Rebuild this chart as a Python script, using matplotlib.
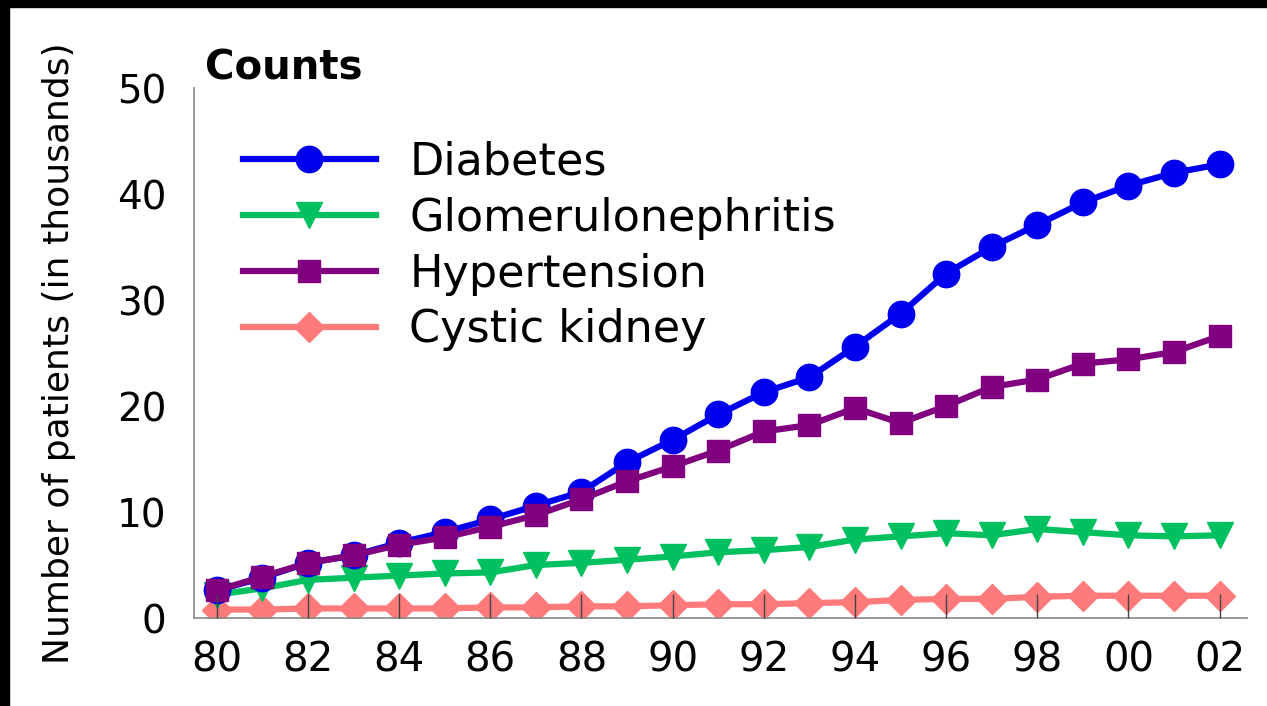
import matplotlib
matplotlib.use("Agg")
import matplotlib.pyplot as plt
from matplotlib.patches import Rectangle

years = list(range(1980, 2003))
diabetes = [2.6, 3.8, 5.2, 5.9, 7.1, 8.1, 9.3, 10.6, 11.9, 14.7, 16.8, 19.2, 21.3,
            22.7, 25.6, 28.7, 32.5, 35.0, 37.1, 39.2, 40.8, 42.0, 42.8]
glomerulonephritis = [2.2, 2.8, 3.6, 3.8, 4.0, 4.2, 4.3, 5.0, 5.2, 5.5, 5.8, 6.2, 6.4,
                      6.7, 7.4, 7.7, 8.0, 7.8, 8.4, 8.1, 7.8, 7.7, 7.8]
hypertension = [2.6, 3.9, 5.2, 5.9, 6.9, 7.6, 8.6, 9.7, 11.2, 12.9, 14.3, 15.8, 17.6,
                18.2, 19.8, 18.4, 20.0, 21.8, 22.5, 24.0, 24.4, 25.1, 26.6]
cystic_kidney = [0.8, 0.8, 0.9, 0.9, 0.9, 0.9, 1.0, 1.0, 1.1, 1.1, 1.2, 1.3, 1.3,
                 1.4, 1.5, 1.7, 1.8, 1.8, 2.0, 2.1, 2.1, 2.1, 2.1]
xtick_years = list(range(1980, 2003, 2))
xtick_labels = ["80", "82", "84", "86", "88", "90", "92", "94", "96", "98", "00", "02"]
yticks = [0, 10, 20, 30, 40, 50]

plt.rcParams['font.family'] = ['DejaVu Sans']

fig = plt.figure(figsize=(12.67, 7.06), dpi=100, facecolor='white')
ax = fig.add_axes([194/1267, 88/706, (1247-194)/1267, 530/706])
ax.set_axisbelow(False)

series = [
    ("Diabetes", diabetes, "#0000EE", "o", 19),
    ("Glomerulonephritis", glomerulonephritis, "#00C060", "v", 19),
    ("Hypertension", hypertension, "#800080", "s", 16),
    ("Cystic kidney", cystic_kidney, "#FF7A7A", "D", 15),
]
# draw order: cystic, glomerulo, diabetes, hypertension on top
order = [3, 1, 0, 2]
zs = {3: 2.0, 1: 2.1, 0: 2.2, 2: 2.3}
handles = {}
for i in order:
    name, vals, col, mk, ms = series[i]
    h, = ax.plot(years, vals, color=col, marker=mk, markersize=ms, linewidth=4.5,
                 markeredgecolor=col, label=name, zorder=zs[i])
    handles[name] = h

ax.set_xlim(1979.5, 2002.6)
ax.set_ylim(0, 50)
ax.set_xticks(xtick_years)
ax.set_xticklabels(xtick_labels)
ax.set_yticks(yticks)
ax.tick_params(axis='x', direction='in', length=17, width=1, color='#444444',
               labelsize=29, pad=16)
ax.tick_params(axis='y', length=0, labelsize=28, pad=20)
for s in ['top', 'right']:
    ax.spines[s].set_visible(False)
for s in ['left', 'bottom']:
    ax.spines[s].set_color('#888888')
    ax.spines[s].set_linewidth(1.2)

ax.set_ylabel("Number of patients (in thousands)", fontsize=26)
ax.yaxis.set_label_coords(-(194 - 76)/1053, 0.5)

fig.text(205/1267, 1 - 68/706, "Counts", fontsize=29, fontweight='bold',
         va='center', ha='left')

leg = ax.legend([handles[s[0]] for s in series], [s[0] for s in series],
                loc='upper left', bbox_to_anchor=(31/1053, 1 - 35/530),
                frameon=False, fontsize=32, handlelength=3.0, handletextpad=0.75,
                labelspacing=0.29, borderaxespad=0)

fig.patches.append(Rectangle((0, 1 - 7/706), 1, 7/706, transform=fig.transFigure,
                             color='black', zorder=10))
fig.patches.append(Rectangle((0, 0), 9/1267, 1, transform=fig.transFigure,
                             color='black', zorder=10))

fig.savefig("out.png", dpi=100, facecolor='white')
